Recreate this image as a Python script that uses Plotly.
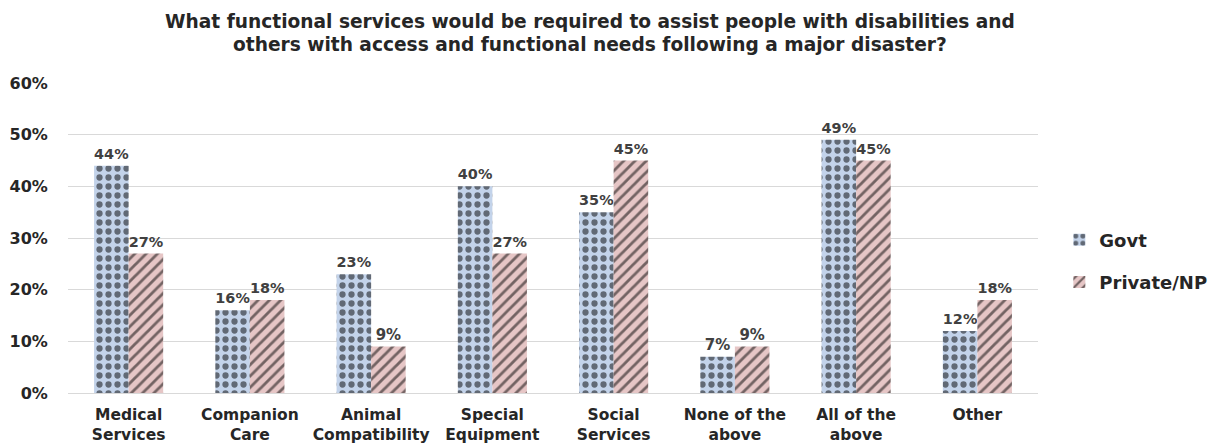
import plotly.graph_objects as go

categories = ["Medical<br>Services", "Companion<br>Care", "Animal<br>Compatibility",
              "Special<br>Equipment", "Social<br>Services", "None of the<br>above",
              "All of the<br>above", "Other"]
govt = [44, 16, 23, 40, 35, 7, 49, 12]
private_np = [27, 18, 9, 27, 45, 9, 45, 18]
y_ticks = [0, 10, 20, 30, 40, 50, 60]
title_lines = ["What functional services would be required to assist people with disabilities and",
               "others with access and functional needs following a major disaster?"]

FONT = "DejaVu Sans"
TXT = "#262626"
BLUE = "#c3d3ea"
PINK = "#e6c6c6"

fig = go.Figure()
fig.add_trace(go.Bar(
    name="Govt", x=categories, y=govt, legendgroup="g",
    text=[f"{v}%" for v in govt], textposition="outside", cliponaxis=False,
    textfont=dict(family=FONT, size=15, color="#404040", weight="bold"),
    marker=dict(color=BLUE, line=dict(width=0),
                pattern=dict(shape=".", fgcolor="black", bgcolor=BLUE,
                             size=9, solidity=0.38, fillmode="overlay")),
))
fig.add_trace(go.Bar(
    name="Private/NP", x=categories, y=private_np, legendgroup="p",
    text=[f"{v}%" for v in private_np], textposition="outside", cliponaxis=False,
    textfont=dict(family=FONT, size=15, color="#404040", weight="bold"),
    marker=dict(color=PINK, line=dict(width=0),
                pattern=dict(shape="/", fgcolor="black", bgcolor=PINK,
                             size=8, solidity=0.35, fillmode="overlay")),
))

for i, line in enumerate(title_lines):
    fig.add_annotation(text=line, xref="paper", yref="paper",
                       x=0.538, y=1.197 - i * 0.074, xanchor="center", yanchor="middle",
                       showarrow=False,
                       font=dict(family=FONT, size=18.6, color=TXT, weight="bold"))

fig.update_layout(
    width=1226, height=445,
    margin=dict(l=68, r=188, t=83, b=52),
    paper_bgcolor="white", plot_bgcolor="white",
    barmode="group", bargap=0.43, bargroupgap=0,
    legend=dict(x=1.022, y=0.426, xanchor="left", yanchor="middle",
                font=dict(family=FONT, size=18, color=TXT, weight="bold"),
                tracegroupgap=16, itemwidth=30),
    xaxis=dict(tickfont=dict(family=FONT, size=15.5, color=TXT, weight="bold"),
               showline=True, linecolor="#d9d9d9", linewidth=1, automargin=False,
               ticks="outside", ticklen=7, tickcolor="white"),
    yaxis=dict(range=[0, 60], tickvals=y_ticks, ticktext=[f"{v}%" for v in y_ticks],
               tickfont=dict(family=FONT, size=16, color=TXT, weight="bold"),
               showgrid=True, gridcolor="#d9d9d9", gridwidth=1, zeroline=False,
               automargin=False, ticks="outside", ticklen=16, tickcolor="white"),
)

fig.write_html("out.html")
